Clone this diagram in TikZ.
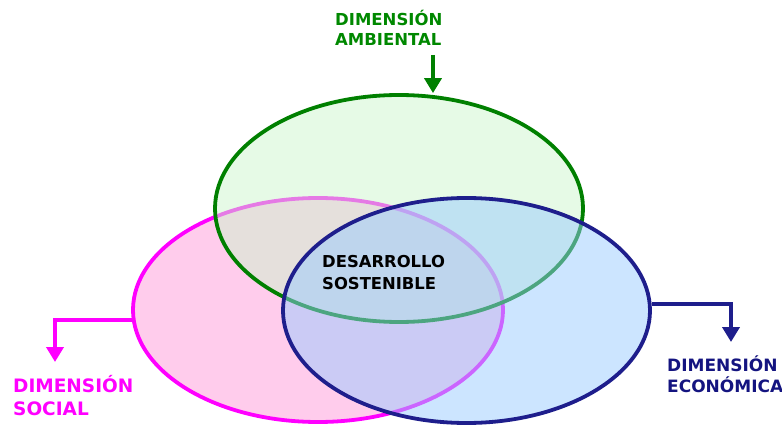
\documentclass[tikz,border=0pt]{standalone}
\usepackage{fontspec}
\setmainfont{DejaVu Sans}
\usetikzlibrary{shapes.geometric,arrows.meta}
\definecolor{gstroke}{RGB}{0,128,0}
\definecolor{gfill}{RGB}{205,245,205}
\definecolor{pstroke}{RGB}{255,0,255}
\definecolor{pfill}{RGB}{255,204,236}
\definecolor{bstroke}{RGB}{30,30,140}
\definecolor{bfill}{RGB}{153,203,255}
\definecolor{gtext}{RGB}{0,136,0}
\definecolor{btext}{RGB}{20,20,128}
\tikzset{
  venn/.style={ellipse, inner sep=0pt, line width=3.8pt},
  lbl/.style={anchor=base west, inner sep=0pt, font=\bfseries\fontsize{#1}{#1}\selectfont},
  conn/.style={line width=4pt, -{Triangle[width=17pt,length=15pt]}}
}
\begin{document}
\begin{tikzpicture}[x=1pt,y=-1pt]
\useasboundingbox (0,0) rectangle (782,425);
% ellipses
\node[venn, draw=pstroke, fill=pfill, minimum width=370pt, minimum height=224pt] (pink) at (318,310) {};
\node[venn, draw=gstroke, fill=gfill, fill opacity=0.5, minimum width=368pt, minimum height=227pt] (green) at (399,208.5) {};
\node[venn, draw=bstroke, fill=bfill, fill opacity=0.5, minimum width=367pt, minimum height=225pt] (blue) at (466.5,310.5) {};
% labels
\node[lbl=16.5, text=gtext] (amb1) at (335,26) {DIMENSIÓN};
\node[lbl=16.5, text=gtext] (amb2) at (335,46) {AMBIENTAL};
\node[lbl=18.5, text=pstroke] (soc1) at (13,392) {DIMENSIÓN};
\node[lbl=18.5, text=pstroke] (soc2) at (13,415) {SOCIAL};
\node[lbl=17, text=btext] (eco1) at (667,371) {DIMENSIÓN};
\node[lbl=17, text=btext] (eco2) at (667,392) {ECONÓMICA};
\node[lbl=16.4, text=black] (des1) at (322,267) {DESARROLLO};
\node[lbl=16.4, text=black] (des2) at (322,289) {SOSTENIBLE};
% connectors
\coordinate (gtop) at (433,55);
\coordinate (ptip) at (55,362);
\coordinate (btip) at (731,342);
\draw[conn, draw=gstroke] (gtop) -- (gtop |- green.north);
\draw[conn, draw=pstroke] (pink.183.7) -| (ptip);
\draw[conn, draw=bstroke] (blue.2.3) -| (btip);
\end{tikzpicture}
\end{document}
